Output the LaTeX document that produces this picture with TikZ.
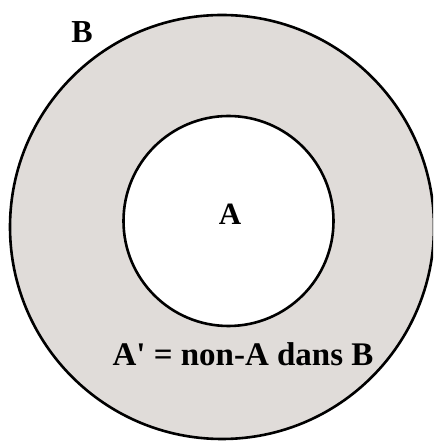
\documentclass[tikz,border=0pt]{standalone}
\usepackage{fontspec}
\setmainfont{Liberation Serif}
\definecolor{ringfill}{RGB}{224,220,217}
\begin{document}
\begin{tikzpicture}[x=1pt,y=1pt,
  circ/.style={draw=black,line width=2.6pt},
  lbl/.style={font=\bfseries, anchor=base, inner sep=0pt}]
\useasboundingbox (0,0) rectangle (433,441);
\clip (0,0) rectangle (433,441);
\draw[circ,fill=ringfill] (222,214) circle (212);
\draw[circ,fill=white] (228.5,220) circle (105);
\node[lbl,font=\fontsize{32}{34}\selectfont\bfseries] (b) at (82,398) {B};
\node[lbl,font=\fontsize{31}{33}\selectfont\bfseries] (a) at (230,216) {A};
\node[lbl,font=\fontsize{33}{35}\selectfont\bfseries] (ac) at (243,75) {A\textquotesingle{} = non-A dans B};
\end{tikzpicture}
\end{document}
